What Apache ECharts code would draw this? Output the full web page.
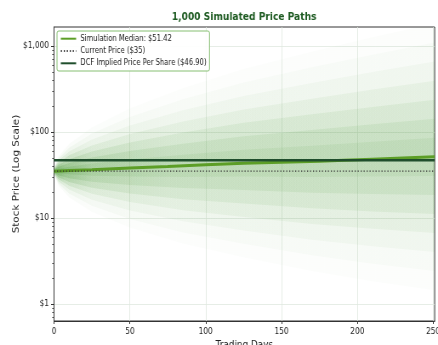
<!DOCTYPE html>
<html><head><meta charset="utf-8">
<script src="https://cdn.jsdelivr.net/npm/echarts@6/dist/echarts.min.js"></script>
<style>
html,body{margin:0;padding:0;overflow:hidden;background:#fff;width:438px;height:345px;}
#wrap{width:515px;height:345px;transform:scaleX(0.8505);transform-origin:0 0;}
</style></head><body><div id="wrap"></div>
<script>
// ---- data ----
const titleText = '1,000 Simulated Price Paths';
const xTickVals = [0, 50, 100, 150, 200, 250];
const yTickVals = [1, 10, 100, 1000];
const yTickLabels = ['$1', '$10', '$100', '$1,000'];
const yMinorTicks = [0.7, 0.8, 0.9, 2, 3, 4, 5, 6, 7, 8, 9, 20, 30, 40, 50, 60, 70, 80, 90, 200, 300, 400, 500, 600, 700, 800, 900];

const medianDays = [0, 10, 25, 50, 75, 100, 125, 150, 175, 191, 210, 230, 251];
const medianPrice = [35, 35.6, 36.5, 38.2, 39.7, 41.5, 43.4, 44.6, 45.8, 46.9, 48.3, 49.8, 51.42];
const currentPrice = 35;
const dcfPrice = 46.90;
const flatDays = [0, 251];

// envelope levels of the simulated-path cloud, inner to outer
const bandDays = [0, 3, 10, 25, 50, 85, 125, 170, 210, 251];
const band1Hi = [35.5, 37.22, 39.42, 42.88, 47.96, 54.37, 62.21, 69.31, 77.01, 85.63];
const band1Lo = [34.5, 33.29, 32.15, 31.07, 30.43, 30.02, 30.28, 29.95, 30.29, 30.88];
const band2Hi = [36.0, 39.35, 43.66, 50.37, 60.21, 73.17, 89.16, 105.4, 122.8, 142.6];
const band2Lo = [34.0, 31.48, 29.03, 26.45, 24.24, 22.31, 21.13, 19.69, 19.00, 18.54];
const band3Hi = [36.5, 41.61, 48.34, 59.17, 75.59, 98.48, 127.8, 160.4, 195.8, 237.5];
const band3Lo = [33.6, 29.78, 26.22, 22.52, 19.30, 16.57, 14.74, 12.94, 11.92, 11.13];
const band4Hi = [37.0, 43.99, 53.54, 69.50, 94.90, 132.5, 183.2, 244.0, 312.1, 395.5];
const band4Lo = [33.1, 28.16, 23.67, 19.17, 15.38, 12.31, 10.28, 8.509, 7.474, 6.686];
const band5Hi = [37.5, 46.52, 59.28, 81.64, 119.1, 178.4, 262.6, 371.1, 497.7, 658.5];
const band5Lo = [32.7, 26.64, 21.38, 16.32, 12.25, 9.151, 7.174, 5.593, 4.687, 4.015];
const band6Hi = [38.0, 49.18, 65.65, 95.90, 149.6, 240.1, 376.3, 564.6, 793.5, 1096.7];
const band6Lo = [32.2, 25.19, 19.30, 13.89, 9.756, 6.799, 5.005, 3.677, 2.940, 2.411];
const band7Hi = [38.5, 52.0, 72.70, 112.6, 187.8, 323.0, 539.4, 858.8, 1265, 1826];
const band7Lo = [31.8, 23.83, 17.43, 11.83, 7.771, 5.053, 3.492, 2.417, 1.844, 1.448];

const seriesNames = ['Simulation Median: $51.42', 'Current Price ($35)', 'DCF Implied Price Per Share ($46.90)'];
const seriesColors = ['#5c9e26', '#333333', '#1f4e2c'];

// ---- chart ----
const FONT = 'DejaVu Sans';
const chart = echarts.init(document.getElementById('wrap'), null, {renderer: 'canvas'});

function bandSeries(hi, lo, alpha) {
  const data = bandDays.map((d, i) => [d, hi[i], lo[i]]);
  const c = a => 'rgba(70,150,50,' + Math.min(a, 1).toFixed(3) + ')';
  return {
    type: 'custom', silent: true, clip: true, z: 1,
    data: data,
    encode: {x: 0, y: [1, 2]},
    renderItem: function (params, api) {
      if (params.dataIndex !== 0) return null;
      const pts = [];
      for (let i = 0; i < data.length; i++) pts.push(api.coord([data[i][0], data[i][1]]));
      for (let i = data.length - 1; i >= 0; i--) pts.push(api.coord([data[i][0], data[i][2]]));
      return {
        type: 'polygon',
        shape: {points: pts},
        style: {
          fill: new echarts.graphic.LinearGradient(0, 0, 1, 0, [
            {offset: 0, color: c(alpha * 3.2)},
            {offset: 0.03, color: c(alpha * 2.1)},
            {offset: 0.1, color: c(alpha * 1.4)},
            {offset: 0.3, color: c(alpha * 1.05)},
            {offset: 1, color: c(alpha * 0.95)}
          ]),
          shadowBlur: 5,
          shadowColor: c(alpha)
        }
      };
    }
  };
}

const axisColor = '#333';
const option = {
  animation: false,
  backgroundColor: '#fff',
  title: {
    text: titleText, left: 202, top: 12, padding: 0,
    textStyle: {fontFamily: FONT, fontSize: 10.7, fontWeight: 'bold', color: '#1e5b22'}
  },
  grid: {left: 63.5, right: 3.9, top: 27, bottom: 24, outerBoundsMode: 'none', containLabel: false,
    show: true, borderColor: axisColor, borderWidth: 1, backgroundColor: 'transparent'},
  legend: {
    data: seriesNames, orient: 'vertical', left: 67, top: 31,
    padding: [3.7, 3.5, 3.7, 3.5], itemWidth: 18, itemHeight: 8, itemGap: 4.3,
    backgroundColor: 'rgba(255,255,255,0.9)', borderColor: '#86bf72', borderWidth: 1, borderRadius: 2,
    itemStyle: {opacity: 0},
    textStyle: {fontFamily: FONT, fontSize: 8, color: '#222'}
  },
  xAxis: {
    type: 'value', min: 0, max: 251, interval: 50,
    axisLine: {show: true, lineStyle: {color: axisColor, width: 1}},
    axisTick: {show: true, length: 3, customValues: xTickVals, lineStyle: {color: axisColor}},
    axisLabel: {customValues: xTickVals, margin: 6, fontFamily: FONT, fontSize: 8.7, color: '#222'},
    splitLine: {show: true, lineStyle: {color: '#dfe9df', width: 0.8}},
    name: 'Trading Days', nameLocation: 'middle', nameGap: 19, nameMoveOverlap: false,
    nameTextStyle: {fontFamily: FONT, fontSize: 10.4, color: '#222'}
  },
  yAxis: [{
    type: 'log', logBase: 10, min: 0.634, max: 1663,
    axisLine: {show: true, lineStyle: {color: axisColor, width: 1}},
    axisTick: {show: true, length: 3.5, customValues: yTickVals, lineStyle: {color: axisColor}},
    axisLabel: {
      customValues: yTickVals, margin: 6, fontFamily: FONT, fontSize: 8.7, color: '#222',
      formatter: v => yTickLabels[Math.round(Math.log10(v))]
    },
    splitLine: {show: true, lineStyle: {color: '#dfe9df', width: 0.8}},
    name: 'Stock Price (Log Scale)', nameLocation: 'middle', nameGap: 39, nameMoveOverlap: false,
    nameTextStyle: {fontFamily: FONT, fontSize: 10.4, color: '#222'}
  }, {
    type: 'log', logBase: 10, min: 0.634, max: 1663, position: 'left',
    axisLine: {show: false}, axisLabel: {show: false}, splitLine: {show: false},
    axisTick: {show: true, length: 2.2, customValues: yMinorTicks, lineStyle: {color: axisColor, width: 0.8}}
  }],
  series: [
    bandSeries(band7Hi, band7Lo, 0.015),
    bandSeries(band6Hi, band6Lo, 0.025),
    bandSeries(band5Hi, band5Lo, 0.04),
    bandSeries(band4Hi, band4Lo, 0.06),
    bandSeries(band3Hi, band3Lo, 0.08),
    bandSeries(band2Hi, band2Lo, 0.09),
    bandSeries(band1Hi, band1Lo, 0.08),
    {
      name: seriesNames[0], type: 'line', symbol: 'none', z: 5, color: seriesColors[0],
      data: medianDays.map((d, i) => [d, medianPrice[i]]),
      itemStyle: {color: seriesColors[0]},
      lineStyle: {color: seriesColors[0], width: 3}
    },
    {
      name: seriesNames[1], type: 'line', symbol: 'none', z: 6, color: seriesColors[1],
      data: flatDays.map(d => [d, currentPrice]),
      itemStyle: {color: seriesColors[1]},
      lineStyle: {color: seriesColors[1], width: 1.2, type: [1.3, 2.2]}
    },
    {
      name: seriesNames[2], type: 'line', symbol: 'none', z: 7, color: seriesColors[2],
      data: flatDays.map(d => [d, dcfPrice]),
      itemStyle: {color: seriesColors[2]},
      lineStyle: {color: seriesColors[2], width: 2.6}
    }
  ]
};
chart.setOption(option);
</script></body></html>
